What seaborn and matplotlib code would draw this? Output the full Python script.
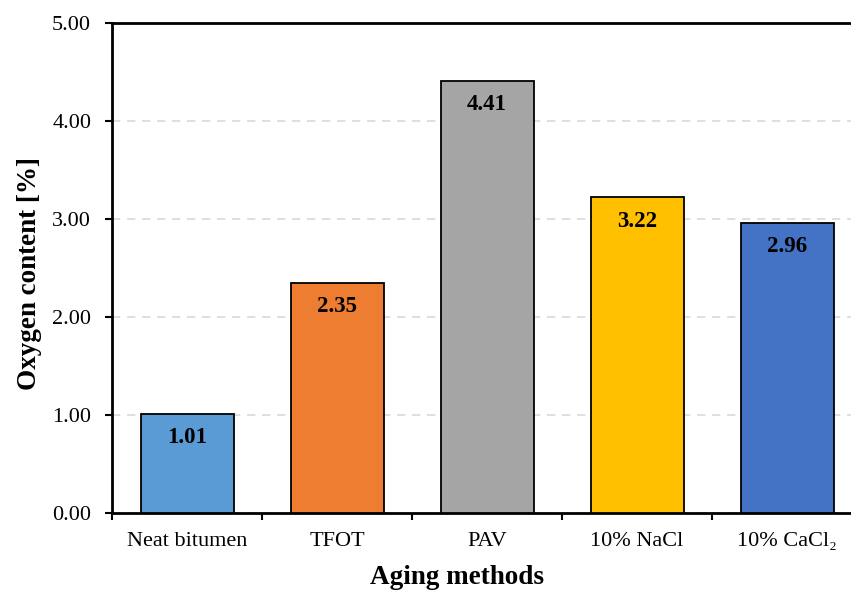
import matplotlib
matplotlib.use("Agg")
import matplotlib.pyplot as plt
import seaborn as sns
import pandas as pd
from matplotlib.ticker import FixedLocator

categories = ["Neat bitumen", "TFOT", "PAV", "10% NaCl", "10% CaCl₂"]
values = [1.01, 2.35, 4.41, 3.22, 2.96]
colors = ["#5B9BD5", "#ED7D31", "#A5A5A5", "#FFC000", "#4472C4"]
yticks = [0, 1, 2, 3, 4, 5]

sns.set_style("white")
plt.rcParams['font.family'] = ['Liberation Serif', 'DejaVu Serif']
plt.rcParams['text.color'] = 'black'
plt.rcParams['xtick.color'] = 'black'
plt.rcParams['ytick.color'] = 'black'
plt.rcParams['axes.labelcolor'] = 'black'

df = pd.DataFrame({"method": categories, "oxygen": values})

fig = plt.figure(figsize=(8.51, 5.90), dpi=100)
ax = fig.add_axes([112/851, 1-513/590, 750/851, 490/590])

sns.barplot(data=df, x="method", y="oxygen", hue="method", palette=colors,
            saturation=1, width=0.62, edgecolor="black", linewidth=1.3,
            legend=False, ax=ax, zorder=3)

ax.set_ylim(0, 5)
ax.set_xlim(-0.5, len(categories) - 0.5)
ax.set_yticks(yticks)
ax.set_yticklabels([f"{v:.2f}" for v in yticks], fontsize=16)
ax.yaxis.grid(True, linestyle=(0, (5, 4)), color="#D9D9D9", linewidth=1.2, zorder=0)
ax.set_axisbelow(True)

ax.tick_params(axis="x", which="major", bottom=False, length=0, labelsize=16, pad=14)
ax.xaxis.set_minor_locator(FixedLocator([i - 0.5 for i in range(len(categories) + 1)]))
ax.tick_params(axis="x", which="minor", bottom=True, length=5, width=1.5, direction="out", color="black")
ax.tick_params(axis="y", which="major", left=True, length=5, width=1.5, direction="out", color="black", pad=10)

for side in ["left", "bottom", "top", "right"]:
    ax.spines[side].set_visible(True)
    ax.spines[side].set_color("black")
    ax.spines[side].set_linewidth(2)

ax.set_xlabel("Aging methods", fontsize=19.5, fontweight="bold")
ax.set_ylabel("Oxygen content [%]", fontsize=19.5, fontweight="bold")
ax.xaxis.set_label_coords((457 - 112) / 750, -(577 - 513) / 490, transform=ax.transAxes)
ax.yaxis.set_label_coords(-(112 - 30) / 750, (513 - 274) / 490, transform=ax.transAxes)
ax.xaxis.label.set_va("center")
ax.yaxis.label.set_va("center")

for i, v in enumerate(values):
    ax.annotate(f"{v:.2f}", xy=(i, v), xytext=(0, -17), textcoords="offset points",
                ha="center", va="center", fontsize=16.5, fontweight="bold", zorder=5)

fig.savefig("out.png", dpi=100)
